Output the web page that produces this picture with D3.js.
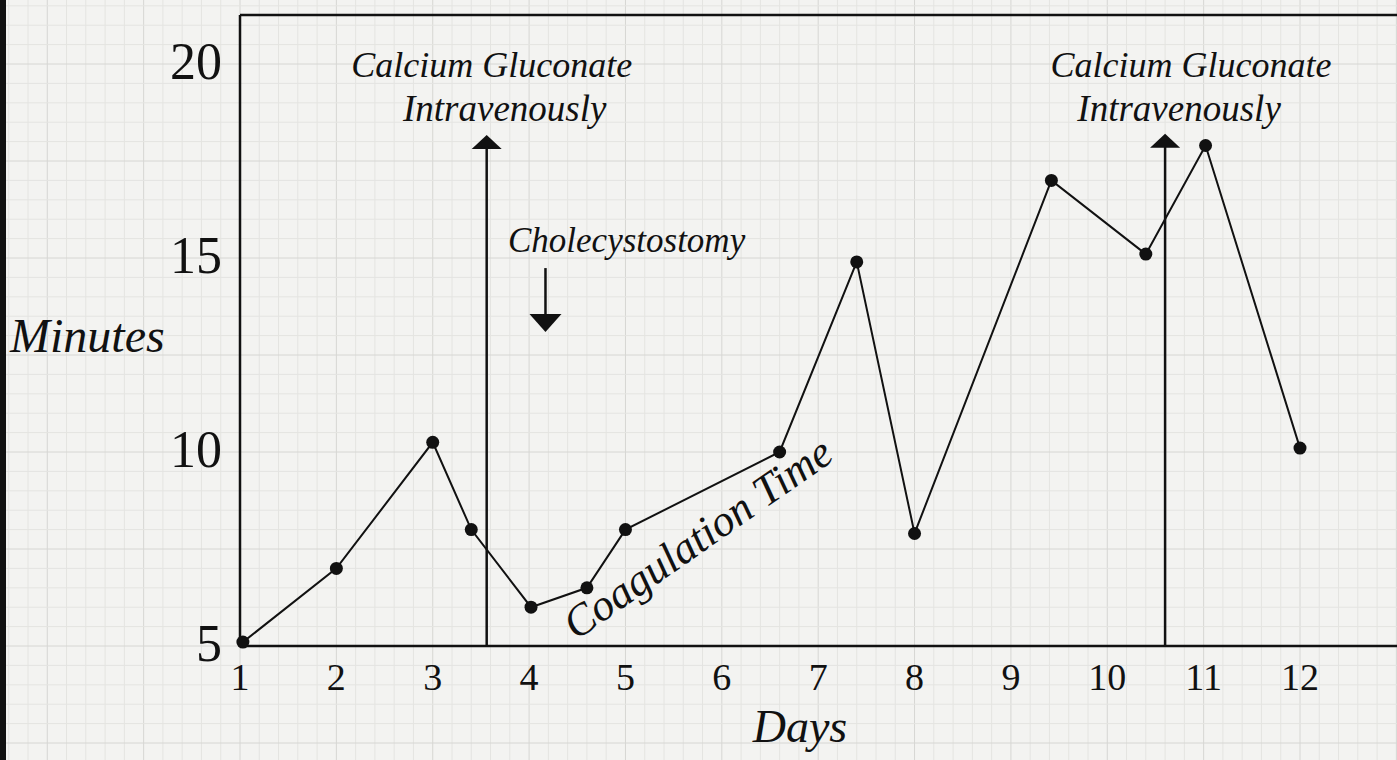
<!DOCTYPE html>
<html>
<head>
<meta charset="utf-8">
<script src="https://cdn.jsdelivr.net/npm/d3@7"></script>
<style>
  body { margin: 0; background: #f3f3f1; }
  svg { display: block; }
</style>
</head>
<body>
<svg id="chart" width="1397" height="760"></svg>
<script>
// coagulation time readings, day vs minutes
var days    = [1.03, 2, 3, 3.4, 4.02, 4.6, 5, 6.6, 7.4, 8, 9.42, 10.4, 11.02, 12];
var minutes = [5.1, 7.0, 10.25, 8.0, 6.0, 6.5, 8.0, 10.0, 14.9, 7.9, 17.0, 15.1, 17.9, 10.1];

var dayTicks = [1, 2, 3, 4, 5, 6, 7, 8, 9, 10, 11, 12];
var minuteTicks = [5, 10, 15, 20];

// calcium gluconate given on these days (arrow tip in minutes)
var injectionDays = [3.56, 10.6];
var injectionTop = [18.17, 18.2];

// cholecystostomy marker
var surgeryDay = 4.17;
var surgeryFrom = 14.74;
var surgeryTo = 13.09;

var svg = d3.select("#chart");
var width = 1397, height = 760;

var x = d3.scaleLinear().domain([1, 12]).range([240, 1300]);
var y = d3.scaleLinear().domain([5, 20]).range([646, 64]);

var hand = "'Liberation Serif', 'DejaVu Serif', serif";

// graph paper background
var grid = svg.append("g");
var xMinor = d3.range(-2.6, 13.6, 0.2);
var yMinor = d3.range(1, 23, 0.5);
grid.selectAll("line.vx")
    .data(xMinor)
    .enter()
    .append("line")
    .attr("x1", d => x(d)).attr("x2", d => x(d))
    .attr("y1", 0).attr("y2", height)
    .style("stroke", d => (Math.abs(d - Math.round(d)) < 0.01) ? "#d6d6d3" : "#e4e4e1")
    .style("stroke-width", 1);
grid.selectAll("line.hy")
    .data(yMinor)
    .enter()
    .append("line")
    .attr("x1", 0).attr("x2", width)
    .attr("y1", d => y(d)).attr("y2", d => y(d))
    .style("stroke", d => (Math.abs(d / 2.5 - Math.round(d / 2.5)) < 0.01) ? "#d6d6d3" : "#e4e4e1")
    .style("stroke-width", 1);

// dark page edge at left
svg.append("rect")
    .attr("x", 0).attr("y", 0)
    .attr("width", 6).attr("height", height)
    .style("fill", "#111");

// frame: left axis, top, bottom axis
svg.append("line")
    .attr("x1", x(1)).attr("x2", x(1))
    .attr("y1", 15).attr("y2", y(5))
    .style("stroke", "#111").style("stroke-width", 2.5);
svg.append("line")
    .attr("x1", x(1)).attr("x2", width)
    .attr("y1", 15).attr("y2", 15)
    .style("stroke", "#111").style("stroke-width", 2.5);
svg.append("line")
    .attr("x1", x(1)).attr("x2", width)
    .attr("y1", y(5)).attr("y2", y(5))
    .style("stroke", "#111").style("stroke-width", 2.5);

// tick labels
svg.append("g")
    .selectAll("text")
    .data(minuteTicks)
    .enter()
    .append("text")
    .attr("x", 222)
    .attr("y", d => y(d) + 15)
    .attr("text-anchor", "end")
    .style("font-family", hand)
    .style("font-size", "52px")
    .style("fill", "#111")
    .text(d => d);

svg.append("g")
    .selectAll("text")
    .data(dayTicks)
    .enter()
    .append("text")
    .attr("x", d => x(d))
    .attr("y", 690)
    .attr("text-anchor", "middle")
    .style("font-family", hand)
    .style("font-size", "38px")
    .style("fill", "#111")
    .text(d => d);

// axis titles
svg.append("text")
    .attr("x", 10).attr("y", 352)
    .style("font-family", hand)
    .style("font-style", "italic")
    .style("font-size", "48px")
    .style("fill", "#111")
    .text("Minutes");

svg.append("text")
    .attr("x", 800).attr("y", 742)
    .attr("text-anchor", "middle")
    .style("font-family", hand)
    .style("font-style", "italic")
    .style("font-size", "46px")
    .style("fill", "#111")
    .text("Days");

// injection arrows
var inj = svg.append("g");
injectionDays.forEach(function (d, i) {
    var px = x(d), tip = y(injectionTop[i]);
    inj.append("line")
        .attr("x1", px).attr("x2", px)
        .attr("y1", y(5)).attr("y2", tip + 10)
        .style("stroke", "#111").style("stroke-width", 2.5);
    inj.append("path")
        .attr("d", "M" + px + "," + tip + "L" + (px - 15) + "," + (tip + 14) + "L" + (px + 15) + "," + (tip + 14) + "Z")
        .style("fill", "#111");
});

// injection labels (pixel offsets from the arrow)
var labelDx = [[5, 18], [26, 14]];
injectionDays.forEach(function (d, i) {
    inj.append("text")
        .attr("x", x(d) + labelDx[i][0]).attr("y", 77)
        .attr("text-anchor", "middle")
        .style("font-family", hand)
        .style("font-style", "italic")
        .style("font-size", "36px")
        .style("fill", "#111")
        .text("Calcium Gluconate");
    inj.append("text")
        .attr("x", x(d) + labelDx[i][1]).attr("y", 121)
        .attr("text-anchor", "middle")
        .style("font-family", hand)
        .style("font-style", "italic")
        .style("font-size", "37px")
        .style("fill", "#111")
        .text("Intravenously");
});

// cholecystostomy arrow
var sx = x(surgeryDay);
svg.append("line")
    .attr("x1", sx).attr("x2", sx)
    .attr("y1", y(surgeryFrom)).attr("y2", y(surgeryTo) - 10)
    .style("stroke", "#111").style("stroke-width", 2.5);
svg.append("path")
    .attr("d", "M" + sx + "," + y(surgeryTo) + "L" + (sx - 16) + "," + (y(surgeryTo) - 18) + "L" + (sx + 16) + "," + (y(surgeryTo) - 18) + "Z")
    .style("fill", "#111");
svg.append("text")
    .attr("x", 508).attr("y", 252)
    .style("font-family", hand)
    .style("font-style", "italic")
    .style("font-size", "35px")
    .style("fill", "#111")
    .text("Cholecystostomy");

// the series
var line = d3.line()
    .x(d => x(d[0]))
    .y(d => y(d[1]));
var pts = days.map((d, i) => [d, minutes[i]]);

svg.append("path")
    .datum(pts)
    .attr("d", line)
    .style("fill", "none")
    .style("stroke", "#111")
    .style("stroke-width", 2);

svg.append("g")
    .selectAll("circle")
    .data(pts)
    .enter()
    .append("circle")
    .attr("cx", d => x(d[0]))
    .attr("cy", d => y(d[1]))
    .attr("r", 6.5)
    .style("fill", "#111");

// series label along the line
svg.append("text")
    .attr("transform", "translate(706,550) rotate(-35)")
    .attr("text-anchor", "middle")
    .style("font-family", hand)
    .style("font-style", "italic")
    .style("font-size", "44px")
    .style("fill", "#111")
    .text("Coagulation Time");
</script>
</body>
</html>
